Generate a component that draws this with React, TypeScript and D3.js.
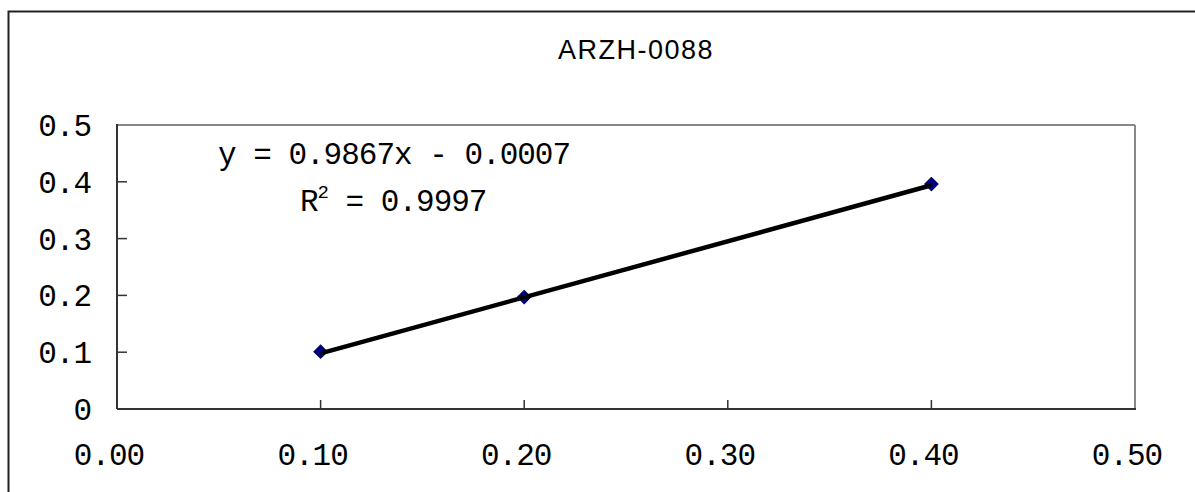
import React from 'react'
import * as d3 from 'd3'

const title = 'ARZH-0088'
const xValues = [0.1, 0.2, 0.4]
const yValues = [0.101, 0.197, 0.396]
const slope = 0.9867
const intercept = -0.0007
const rSquared = '0.9997'
const xTicks = [0, 0.1, 0.2, 0.3, 0.4, 0.5]
const yTicks = [0, 0.1, 0.2, 0.3, 0.4, 0.5]

const W = 1195
const H = 492
const plot = { left: 117, right: 1135, top: 125, bottom: 409 }
const mono = '"Liberation Mono", "DejaVu Sans Mono", monospace'

export default function App() {
  const x = d3.scaleLinear().domain([0, 0.5]).range([plot.left, plot.right])
  const y = d3.scaleLinear().domain([0, 0.5]).range([plot.bottom, plot.top])

  const points = xValues.map((v, i) => ({ x: v, y: yValues[i] }))
  const trendX = [d3.min(xValues) as number, d3.max(xValues) as number]
  const line = d3
    .line<number>()
    .x(d => x(d))
    .y(d => y(slope * d + intercept))

  const marker = d3.symbol().type(d3.symbolSquare).size(90)()

  return (
    <svg
      width={W}
      height={H}
      style={{ position: 'absolute', left: 0, top: 0, display: 'block', background: '#fff' }}
    >
      <rect x={8.5} y={11.5} width={W + 20} height={H + 20} fill="#fff" stroke="#222" strokeWidth={2} />

      <text x={636} y={59} textAnchor="middle" fontFamily='"Liberation Sans", Arial, sans-serif' fontSize={27} letterSpacing={1.5} fill="#000">
        {title}
      </text>

      {/* plot frame: gray top/right, dark axes */}
      <line x1={plot.left} x2={plot.right} y1={plot.top} y2={plot.top} stroke="#888" strokeWidth={2} />
      <line x1={plot.right} x2={plot.right} y1={plot.top} y2={plot.bottom} stroke="#888" strokeWidth={2} />
      <line x1={plot.left} x2={plot.left} y1={plot.top - 1} y2={plot.bottom} stroke="#333" strokeWidth={2} />
      <line x1={plot.left} x2={plot.right + 1} y1={plot.bottom} y2={plot.bottom} stroke="#333" strokeWidth={2} />

      {yTicks.map(t => (
        <g key={'y' + t}>
          {t > 0 && t < 0.5 && (
            <line x1={plot.left} x2={plot.left + 10} y1={y(t)} y2={y(t)} stroke="#333" strokeWidth={1.5} />
          )}
          <text x={91} y={y(t) + 11} textAnchor="end" fontFamily={mono} fontSize={31} letterSpacing={-1} fill="#000">
            {t === 0 ? '0' : t.toFixed(1)}
          </text>
        </g>
      ))}

      {xTicks.map(t => (
        <g key={'x' + t}>
          {t > 0 && t < 0.5 && (
            <line x1={x(t)} x2={x(t)} y1={plot.bottom} y2={plot.bottom - 9} stroke="#333" strokeWidth={1.5} />
          )}
          <text x={x(t) - 8} y={465} textAnchor="middle" fontFamily={mono} fontSize={31} letterSpacing={-1} fill="#000">
            {t.toFixed(2)}
          </text>
        </g>
      ))}

      {points.map((p, i) => (
        <path
          key={i}
          d={marker as string}
          transform={`translate(${x(p.x)},${y(p.y)}) rotate(45)`}
          fill="#000080"
          stroke="#000060"
          strokeWidth={1}
        />
      ))}

      <path d={line(trendX) as string} fill="none" stroke="#000" strokeWidth={4.5} />

      <text x={218} y={164} fontFamily={mono} fontSize={31} letterSpacing={-1} fill="#000" xmlSpace="preserve">
        {`y = ${slope}x - ${Math.abs(intercept).toFixed(4)}`}
      </text>
      <text x={300} y={211} fontFamily={mono} fontSize={31} letterSpacing={-1} fill="#000" xmlSpace="preserve">
        R<tspan fontSize={19} dy={-13}>2</tspan>
        <tspan dy={13}>{` = ${rSquared}`}</tspan>
      </text>
    </svg>
  )
}
